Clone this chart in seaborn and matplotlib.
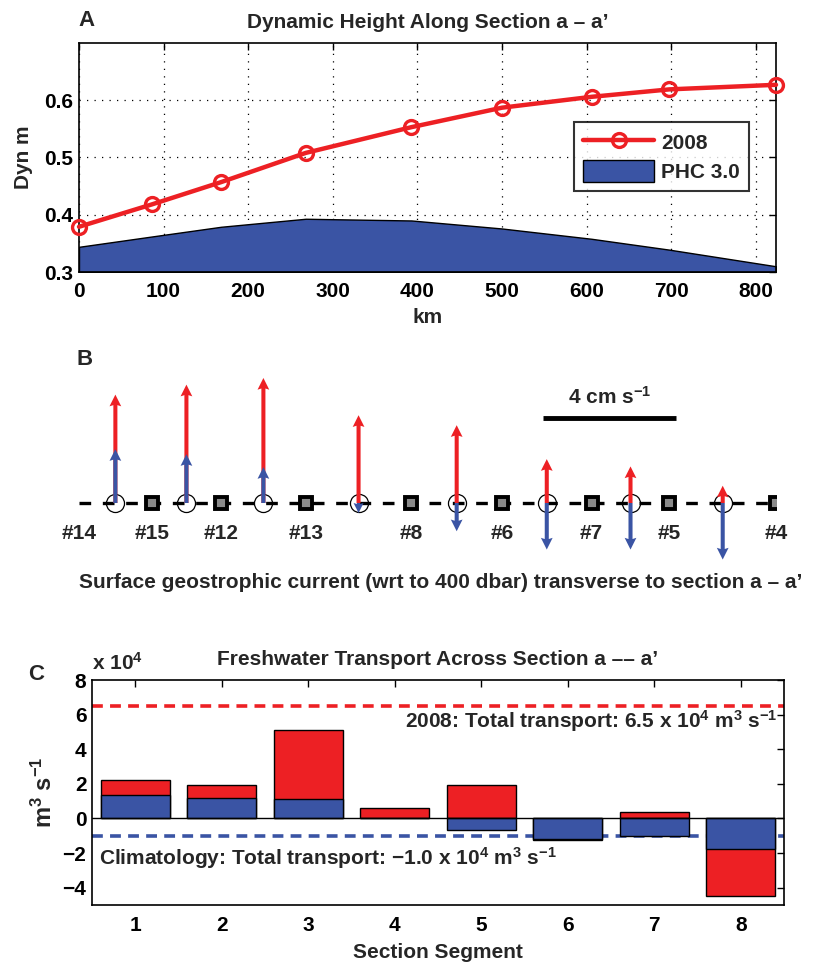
import numpy as np
import pandas as pd
import seaborn as sns
import matplotlib
matplotlib.use("Agg")
import matplotlib.pyplot as plt

# Panel A: dynamic height along section a - a'
km = [0, 86, 168, 268, 393, 500, 606, 698, 824]
dyn_2008 = [0.379, 0.418, 0.457, 0.508, 0.553, 0.587, 0.606, 0.619, 0.627]
dyn_phc = [0.344, 0.362, 0.379, 0.393, 0.390, 0.376, 0.358, 0.339, 0.310]

# Panel B: stations and surface geostrophic velocity between stations (cm/s)
stations = ["#14", "#15", "#12", "#13", "#8", "#6", "#7", "#5", "#4"]
vel_2008 = [3.26, 3.56, 3.76, 2.64, 2.34, 1.32, 1.10, 0.52]
vel_phc = [1.62, 1.47, 1.08, -0.30, -0.85, -1.40, -1.40, -1.70]

# Panel C: freshwater transport per segment (x 10^4 m3/s)
segments = [1, 2, 3, 4, 5, 6, 7, 8]
fw_2008 = [2.22, 1.95, 5.11, 0.62, 1.91, -1.25, 0.38, -4.50]
fw_clim = [1.33, 1.16, 1.10, 0.0, -0.64, -1.16, -1.02, -1.79]
total_2008 = 6.5
total_clim = -1.0

RED = "#ED2024"
BLUE = "#3A54A4"

sns.set_style("white")
plt.rcParams["font.family"] = ["Liberation Sans", "DejaVu Sans"]
plt.rcParams["font.weight"] = "bold"
plt.rcParams["axes.labelweight"] = "bold"
plt.rcParams["axes.titleweight"] = "bold"
plt.rcParams["mathtext.default"] = "regular"
plt.rcParams["axes.linewidth"] = 1.2
plt.rcParams["axes.edgecolor"] = "black"
FS = 15

fig = plt.figure(figsize=(8.14, 9.63), dpi=100)
W, H = 814, 963
axA = fig.add_axes([79 / W, 1 - 272 / H, 697 / W, 229 / H])
axB = fig.add_axes([79 / W, 1 - 570 / H, 697 / W, 210 / H])
axC = fig.add_axes([92 / W, 1 - 905 / H, 692 / W, 225 / H])


def matlab_ticks(ax):
    ax.tick_params(direction="in", top=True, right=True, length=5, width=1,
                   labelsize=FS, colors="black")
    for lab in ax.get_xticklabels() + ax.get_yticklabels():
        lab.set_fontweight("bold")


# ---------------- Panel A ----------------
axA.fill_between(km, dyn_phc, 0.3, facecolor=BLUE, edgecolor="black",
                 linewidth=1, label="PHC 3.0", zorder=2)
sns.lineplot(x=km, y=dyn_2008, ax=axA, color=RED, linewidth=3.2, marker="o",
             markersize=10, markerfacecolor="none", markeredgecolor=RED,
             markeredgewidth=2.4, label="2008", clip_on=False, zorder=3)
axA.set_xlim(0, 824)
axA.set_ylim(0.3, 0.7)
axA.set_xticks([0, 100, 200, 300, 400, 500, 600, 700, 800])
axA.set_yticks([0.3, 0.4, 0.5, 0.6])
axA.set_yticklabels(["0.3", "0.4", "0.5", "0.6"])
axA.grid(True, linestyle=(0, (1, 5)), color="black", linewidth=0.9)
axA.set_axisbelow(True)
matlab_ticks(axA)
axA.tick_params(axis="x", pad=7)
axA.tick_params(axis="y", pad=4)
axA.set_xlabel("km", fontsize=FS, labelpad=5)
axA.set_ylabel("Dyn m", fontsize=FS, labelpad=8)
axA.set_title("Dynamic Height Along Section a \u2013 a\u2019", fontsize=FS, pad=11)
handles, labels = axA.get_legend_handles_labels()
order = [labels.index("2008"), labels.index("PHC 3.0")]
leg = axA.legend([handles[i] for i in order], [labels[i] for i in order],
                 loc="upper left", bbox_to_anchor=(0.71, 0.655), fontsize=FS,
                 frameon=True, fancybox=False, edgecolor="black",
                 handlelength=3.4, handleheight=1.2, handletextpad=0.35,
                 borderpad=0.45, labelspacing=0.35, borderaxespad=0)
leg.get_frame().set_linewidth(1.5)
for t in leg.get_texts():
    t.set_fontweight("bold")
fig.text(78 / W, 1 - 20 / H, "A", fontsize=FS + 1, va="center", ha="left")

# ---------------- Panel B ----------------
mid = [(km[i] + km[i + 1]) / 2 for i in range(len(km) - 1)]
px_per_cms = 133 / 4.0              # 4 cm/s scale bar is 133 px long
px_per_km = 697 / 824.0
km_per_cms = px_per_cms / px_per_km
zero_px = 570 - 503
axB.set_xlim(0, 824)
axB.set_ylim(-zero_px / px_per_cms, (210 - zero_px) / px_per_cms)
axB.axis("off")

axB.plot([km[0], km[-1]], [0, 0], color="black", linewidth=2.4,
         linestyle=(0, (3.5, 3.5)), zorder=1)
axB.plot(km[1:], np.zeros(len(km) - 1), linestyle="none", marker="s",
         markersize=8, markerfacecolor="#8a8a8a", markeredgecolor="black",
         markeredgewidth=2.8, zorder=2)
axB.plot(mid, np.zeros(len(mid)), linestyle="none", marker="o",
         markersize=13, markerfacecolor="none", markeredgecolor="black",
         markeredgewidth=0.9, zorder=2)
qkw = dict(angles="xy", scale_units="xy", scale=1, width=0.0058,
           headwidth=2.9, headlength=2.9, headaxislength=2.6)
axB.quiver(mid, np.zeros(len(mid)), np.zeros(len(mid)), vel_2008,
           color=RED, zorder=3, **qkw)
axB.quiver(mid, np.zeros(len(mid)), np.zeros(len(mid)), vel_phc,
           color=BLUE, zorder=4, **qkw)
for x, name in zip(km, stations):
    axB.text(x, -0.93, name, fontsize=FS, ha="center", va="center")
bar_x0 = 549
axB.plot([bar_x0, bar_x0 + 4 * km_per_cms], [2.556, 2.556], color="black",
         linewidth=3.5, solid_capstyle="butt", clip_on=False)
axB.text(bar_x0 + 2 * km_per_cms, 3.19, "4 cm s$^{-1}$", fontsize=FS,
         ha="center", va="center")
fig.text(76 / W, 1 - 359 / H, "B", fontsize=FS + 1, va="center", ha="left")
fig.text(79 / W, 1 - 582 / H,
         "Surface geostrophic current (wrt to 400 dbar) transverse to section a \u2013 a\u2019",
         fontsize=FS, va="center", ha="left")

# ---------------- Panel C ----------------
axC.axhline(total_2008, color=RED, linewidth=2.6, linestyle=(0, (3, 2)), zorder=1)
axC.axhline(total_clim, color=BLUE, linewidth=2.6, linestyle=(0, (3, 2)), zorder=1)
sns.barplot(x=segments, y=fw_2008, native_scale=True, color=RED, saturation=1,
            edgecolor="black", linewidth=1, width=0.8, errorbar=None, ax=axC,
            zorder=2)
sns.barplot(x=segments, y=fw_clim, native_scale=True, color=BLUE, saturation=1,
            edgecolor="black", linewidth=1, width=0.8, errorbar=None, ax=axC,
            zorder=3)
axC.axhline(0, color="black", linewidth=1, zorder=4)
axC.set_xlim(0.5, 8.5)
axC.set_ylim(-5, 8)
axC.set_xticks(segments)
axC.set_xticklabels([str(s) for s in segments])
axC.set_yticks([-4, -2, 0, 2, 4, 6, 8])
axC.set_yticklabels(["\u22124", "\u22122", "0", "2", "4", "6", "8"])
matlab_ticks(axC)
axC.tick_params(axis="x", pad=8)
axC.tick_params(axis="y", pad=4)
axC.set_xlabel("Section Segment", fontsize=FS, labelpad=6)
axC.set_ylabel("m$^3$ s$^{-1}$", fontsize=FS + 2, labelpad=4)
axC.set_title("Freshwater Transport Across Section a \u2013\u2013 a\u2019",
              fontsize=FS, pad=11)
axC.text(8.42, 5.6, "2008: Total transport: 6.5 x 10$^4$ m$^3$ s$^{-1}$",
         fontsize=FS, ha="right", va="center")
axC.text(0.58, -2.3, "Climatology: Total transport: \u22121.0 x 10$^4$ m$^3$ s$^{-1}$",
         fontsize=FS, ha="left", va="center")
axC.text(0.0, 1.075, "x 10$^4$", transform=axC.transAxes, fontsize=FS,
         ha="left", va="center")
fig.text(36 / W, 1 - 675 / H, "C", fontsize=FS + 1, va="center", ha="center")

fig.savefig("out.png", dpi=100)
